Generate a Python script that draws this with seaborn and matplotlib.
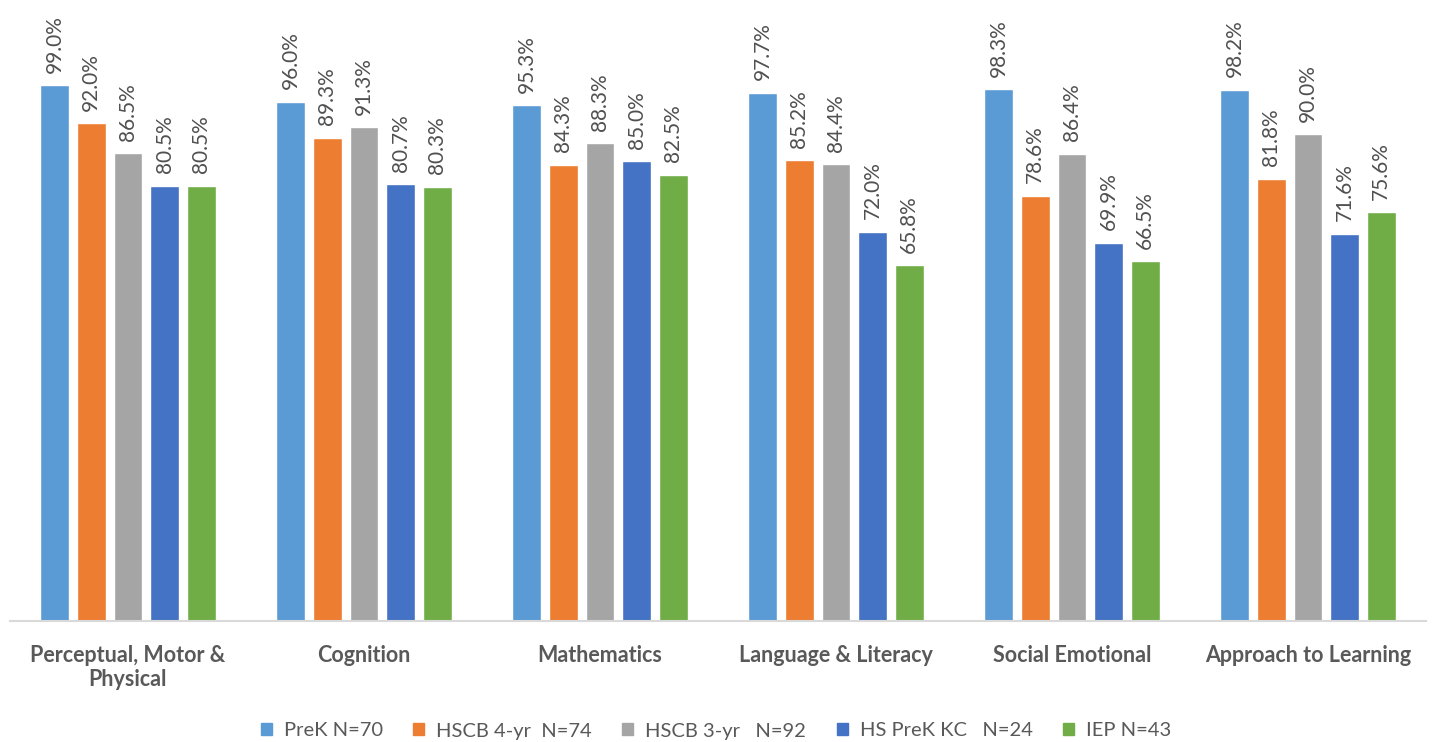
import matplotlib
matplotlib.use("Agg")
import matplotlib.pyplot as plt
import seaborn as sns
import pandas as pd
from matplotlib.patches import Patch

categories = ["Perceptual, Motor &\nPhysical", "Cognition", "Mathematics",
              "Language & Literacy", "Social Emotional", "Approach to Learning"]
series_names = ["PreK N=70", "HSCB 4-yr  N=74", "HSCB 3-yr   N=92",
                "HS PreK KC   N=24", "IEP N=43"]
prek = [99.0, 96.0, 95.3, 97.7, 98.3, 98.2]
hscb4 = [92.0, 89.3, 84.3, 85.2, 78.6, 81.8]
hscb3 = [86.5, 91.3, 88.3, 84.4, 86.4, 90.0]
hskc = [80.5, 80.7, 85.0, 72.0, 69.9, 71.6]
iep = [80.5, 80.3, 82.5, 65.8, 66.5, 75.6]
colors = ["#5B9BD5", "#ED7D31", "#A5A5A5", "#4472C4", "#70AD47"]

rows = []
for name, vals in zip(series_names, [prek, hscb4, hscb3, hskc, iep]):
    for c, v in zip(categories, vals):
        rows.append({"Category": c, "Series": name, "Value": v})
df = pd.DataFrame(rows)

sns.set_theme(style="white")
plt.rcParams["font.family"] = ["Lato", "DejaVu Sans"]

fig = plt.figure(figsize=(14.32, 7.42), dpi=100)
ax = fig.add_axes([10 / 1432, 121 / 742, 1416 / 1432, 621 / 742])
sns.barplot(data=df, x="Category", y="Value", hue="Series", order=categories,
            hue_order=series_names, palette=colors, width=0.777, ax=ax,
            saturation=1, legend=False, errorbar=None)

for container in ax.containers:
    for p in container:
        w = p.get_width()
        nw = w * 0.79
        p.set_x(p.get_x() + (w - nw) / 2)
        p.set_width(nw)
    ax.bar_label(container, labels=[f"{v:.1f}%" for v in container.datavalues],
                 rotation=90, padding=9, color="#505050", fontsize=15)

ax.set_ylim(0, 114.8)
ax.set_xlim(-0.5, 5.5)
ax.set_yticks([])
ax.set_xlabel("")
ax.set_ylabel("")
for s in ["top", "left", "right"]:
    ax.spines[s].set_visible(False)
ax.spines["bottom"].set_color("#D9D9D9")
ax.spines["bottom"].set_linewidth(1.5)
ax.tick_params(axis="x", length=0, pad=17, labelsize=15.5, labelcolor="#595959")
for lbl in ax.get_xticklabels():
    lbl.set_fontweight("bold")

handles = [Patch(color=c, label=n) for c, n in zip(colors, series_names)]
fig.legend(handles=handles, loc="center", bbox_to_anchor=(0.5, 11 / 742), ncol=5,
           frameon=False, fontsize=14.5, handlelength=0.55, handleheight=0.55,
           handletextpad=0.6, columnspacing=1.5, labelcolor="#595959")

fig.savefig("out.png", dpi=100)
